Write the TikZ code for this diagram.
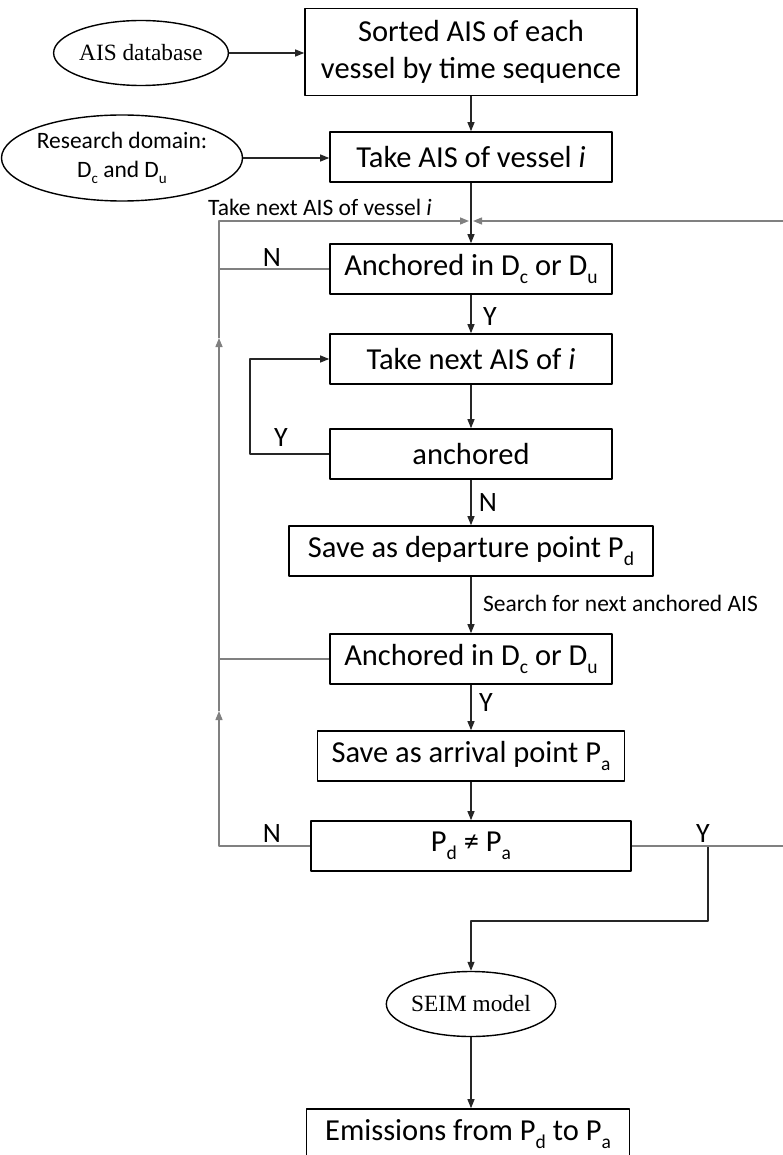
\documentclass[tikz,border=0pt]{standalone}
\usepackage{fontspec}
\usepackage{graphicx}
\setmainfont{Carlito}
\newfontfamily\timesfont{Liberation Serif}
\usetikzlibrary{arrows.meta,shapes.geometric}
\newcommand\sub[1]{\raisebox{-.27em}{\scalebox{.64}{#1}}}
\begin{document}
\begin{tikzpicture}[x=1pt,y=-1pt,>={Triangle[length=9pt,width=7pt]},line join=round,
	box/.style={draw,line width=1.6pt,minimum height=50pt,minimum width=282pt,inner sep=0pt,align=center,font=\fontsize{30.5}{37}\selectfont},
	oval/.style={draw,ellipse,line width=1.4pt,inner sep=0pt,minimum width=152pt,minimum height=65pt,align=center,font=\timesfont\fontsize{23.3}{26}\selectfont},
	flow/.style={line width=1.1pt,black!85},
	back/.style={line width=1.4pt,black!50},
	lbl/.style={inner sep=0pt,font=\fontsize{28}{30}\selectfont},
	note/.style={inner sep=0pt,font=\fontsize{23.5}{26}\selectfont}]
	\useasboundingbox (0,0) rectangle (782,1155);
	\def\cx{471} \def\lx{219} \def\rx{784} % columns
	% boxes
	\node[box,minimum width=332pt,minimum height=87pt] (sorted) at (\cx,52) {Sorted AIS of each\\vessel by time sequence};
	\node[oval] (db) at (141,53) {AIS database};
	\node[box] (take) at (\cx,157) {Take AIS of vessel \textit{i}};
	\node[oval,minimum width=221pt,minimum height=86pt,font=\fontsize{23.5}{29}\selectfont] (dom) at (122,158) {Research domain:\\D\sub{c} and D\sub{u}};
	\node[box] (anc1) at (\cx,269) {Anchored in D\sub{c} or D\sub{u}};
	\node[box] (next) at (\cx,359) {Take next AIS of \textit{i}};
	\node[box] (anc2) at (\cx,454) {anchored};
	\node[box,minimum width=364pt] (dep) at (\cx,551) {Save as departure point P\sub{d}};
	\node[box] (anc3) at (\cx,659) {Anchored in D\sub{c} or D\sub{u}};
	\node[box,minimum width=307pt] (arr) at (\cx,756) {Save as arrival point P\sub{a}};
	\node[box,minimum width=320pt] (diff) at (\cx,846) {P\sub{d} ≠ P\sub{a}};
	\node[oval] (seim) at (\cx,1004) {SEIM model};
	\node[box,minimum width=323pt] (emis) at (\cx-3,1134) {Emissions from P\sub{d} to P\sub{a}};
	% corners
	\coordinate (jn) at (\cx,221);
	\coordinate (ltop) at (\lx,221);
	\coordinate (lbot) at (\lx,846);
	\coordinate (rtop) at (\rx,221);
	\coordinate (rbot) at (\rx,846);
	\coordinate (ytap) at (708,846);
	\coordinate (sbend) at (\cx,921);
	\coordinate (nx) at (250,454);
	% main flow
	\draw[flow,->] (db.east) -- (db.east -| sorted.west);
	\draw[flow,->] (sorted) -- (take);
	\draw[flow,->] (dom.east) -- (dom.east -| take.west);
	\draw[flow] (take) -- (jn);
	\draw[flow,->] (jn) -- (anc1);
	\draw[flow,->] (anc1) -- (next);
	\draw[flow,->] (next) -- (anc2);
	\draw[flow,->] (anc2.west) -- (nx) |- (next.west);
	\draw[flow,->] (anc2) -- (dep);
	\draw[flow,->] (dep) -- (anc3);
	\draw[flow,->] (anc3) -- (arr);
	\draw[flow,->] (arr) -- (diff);
	\draw[flow,->] (ytap) |- (sbend) -- (seim);
	\draw[flow,->] (seim) -- (seim |- emis.north);
	% loops back
	\draw[back] (anc1.west) -- (\lx,269);
	\draw[back] (anc3.west) -- (\lx,659);
	\draw[back,->] (diff.west) -- (lbot) -- (\lx,711);
	\draw[back,->] (\lx,711) -- (\lx,338);
	\draw[back,->] (\lx,338) -- (ltop) -- ([xshift=-2pt]jn);
	\draw[back,->] (diff.east) -- (rbot) -- (rtop) -- ([xshift=2pt]jn);
	% labels
	\node[note] (tnext) at (320,207) {Take next AIS of vessel \textit{i}};
	\node[note,anchor=west] (search) at (483,603) {Search for next anchored AIS};
	\node[lbl] (n1) at (272,258) {N};
	\node[lbl] (y1) at (490,317) {Y};
	\node[lbl] (y2) at (281,438) {Y};
	\node[lbl] (n2) at (488,503) {N};
	\node[lbl] (y3) at (486,703) {Y};
	\node[lbl] (n3) at (272,834) {N};
	\node[lbl] (y4) at (703,834) {Y};
\end{tikzpicture}
\end{document}
